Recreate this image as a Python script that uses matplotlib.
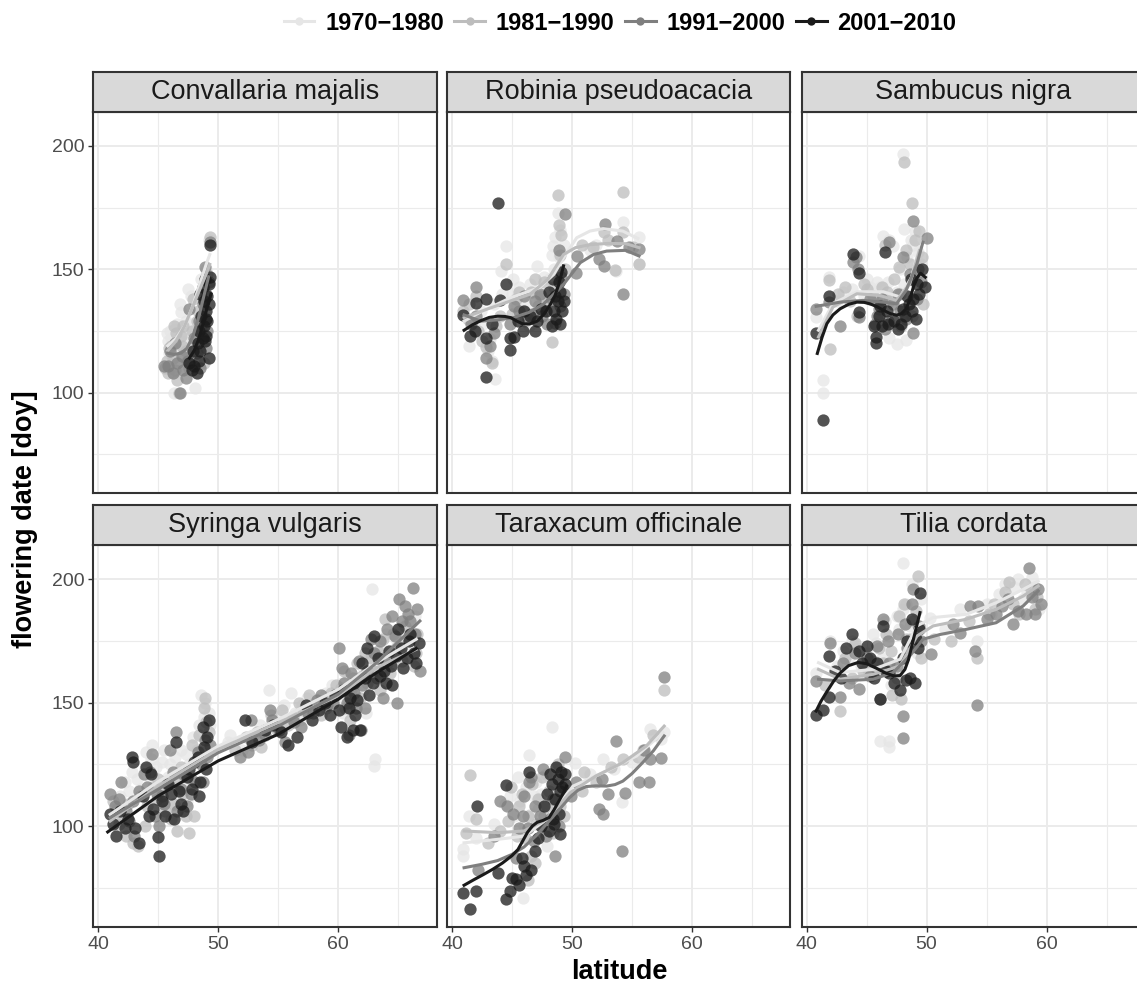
import matplotlib
matplotlib.use('Agg')
import matplotlib.pyplot as plt
from matplotlib.lines import Line2D
import numpy as np

plt.rcParams['font.family'] = ['Liberation Sans', 'DejaVu Sans']

decades = ['1970\u22121980', '1981\u22121990', '1991\u22122000', '2001\u22122010']
line_cols = ['#E6E6E6', '#BDBDBD', '#7F7F7F', '#1A1A1A']
species = ['Convallaria majalis', 'Robinia pseudoacacia', 'Sambucus nigra',
           'Syringa vulgaris', 'Taraxacum officinale', 'Tilia cordata']

# ---- observations (latitude, flowering doy) ----
conv_1970 = [(45.8, 121), (46.0, 125), (46.3, 118), (46.6, 128), (46.9, 132.8), (47.2, 124), (47.5, 142),
             (47.7, 139), (46.2, 112), (45.9, 110), (46.5, 116), (47.0, 114), (47.4, 120), (48.0, 113),
             (48.3, 118), (48.6, 146), (49.0, 150), (49.2, 162), (48.1, 102), (46.3, 100), (46.8, 109), (47.8, 128),
             (45.9, 116), (46.1, 122), (46.4, 126), (46.7, 119), (47.0, 121), (47.3, 129), (46.5, 113), (45.7, 124),
             (47.6, 117), (46.8, 136)]
conv_1981 = [(45.7, 113), (46.1, 119), (46.4, 109), (46.9, 123), (47.3, 117), (47.6, 110), (47.9, 138),
             (48.2, 129), (48.6, 141), (49.1, 148), (49.3, 163), (46.7, 100), (47.1, 127), (45.6, 110),
             (48.0, 120), (48.8, 112), (46.6, 105), (45.9, 118), (46.2, 114), (46.5, 124), (47.0, 119), (47.4, 113),
             (47.8, 125), (48.3, 133), (46.3, 127), (45.8, 108)]
conv_1991 = [(45.8, 111), (46.2, 108), (46.8, 100), (47.3, 106), (47.6, 134), (48.0, 122), (48.4, 129),
             (48.7, 136), (49.0, 118), (49.2, 145), (49.3, 161), (47.0, 115), (46.4, 120), (48.5, 110),
             (45.5, 111), (48.9, 151), (49.1, 125), (46.6, 112), (47.1, 109), (47.5, 113), (48.2, 116), (48.6, 126),
             (49.0, 140), (46.0, 117)]
conv_2001 = [(47.6, 112), (47.9, 117), (48.2, 108), (48.4, 125), (48.6, 131), (48.8, 127), (49.0, 133),
             (49.1, 139), (49.2, 144), (49.3, 147), (48.9, 121), (49.2, 114), (49.0, 123), (49.3, 160),
             (48.5, 140), (48.7, 143), (48.3, 120), (49.1, 129), (48.8, 137), (48.0, 111), (48.5, 117), (48.7, 122),
             (49.0, 130), (49.2, 136), (48.9, 146), (47.8, 109), (48.4, 113)]

rob_1970 = [(41.4, 119), (41.8, 128), (42.4, 133), (43.2, 121.6), (43.0, 117), (43.3, 112.8), (43.6, 105.4),
            (44.5, 159.5), (44.1, 149.3), (45.0, 140), (45.6, 143), (46.2, 136), (46.5, 144), (47.1, 151.4),
            (47.6, 138), (48.1, 146), (48.4, 159.5), (48.3, 156), (48.6, 163), (48.8, 173), (49.0, 166),
            (52.0, 160), (53.7, 149.3), (54.3, 169), (55.6, 163), (55.6, 152), (51.5, 158), (47.9, 133),
            (45.3, 135), (45.8, 139), (46.0, 130), (46.8, 141), (47.3, 137), (47.7, 147), (48.0, 140), (48.5, 150),
            (48.9, 155), (44.2, 140), (43.5, 136), (42.6, 128), (49.3, 160), (46.4, 127), (45.1, 146)]
rob_1981 = [(40.9, 133), (41.3, 130), (42.0, 139), (42.8, 118.5), (43.3, 112), (44.5, 152.3), (45.3, 138),
            (45.9, 133), (46.6, 141), (47.2, 135), (47.7, 145), (48.3, 120.7), (48.8, 180), (48.9, 168),
            (49.1, 164), (49.4, 150), (50.8, 160), (52.7, 165), (54.3, 181.4), (54.25, 165), (55.1, 159),
            (55.6, 152), (53.6, 149.6), (42.2, 125), (44.0, 131), (45.6, 141), (46.1, 129), (46.9, 146),
            (47.4, 139), (48.0, 137), (48.5, 143), (49.0, 156), (45.0, 132), (43.7, 127), (42.5, 121), (41.4, 136),
            (53.0, 162), (51.8, 159)]
rob_1991 = [(40.9, 137.4), (42.0, 142.8), (42.0, 131), (42.8, 114.2), (43.2, 119), (44.8, 128), (45.6, 133),
            (46.3, 130), (46.9, 137), (47.5, 131), (48.6, 128.4), (49.4, 172.3), (48.9, 158), (50.3, 148.6),
            (50.4, 155.4), (52.3, 154), (52.7, 151.4), (52.8, 168.2), (53.8, 161.5), (54.75, 159), (55.6, 158.1),
            (54.25, 140), (49.3, 140), (45.2, 135), (46.0, 139), (46.7, 132), (47.3, 140), (47.9, 128), (48.3, 138),
            (49.1, 147), (43.5, 124), (41.6, 128), (49.0, 135)]
rob_2001 = [(40.9, 131.5), (41.5, 123), (41.9, 125), (42.0, 136.5), (42.8, 137.8), (42.8, 122.3), (42.8, 106.4),
            (43.8, 176.8), (44.0, 137.4), (44.5, 143.9), (44.8, 122.3), (44.8, 117.2), (45.2, 122.6), (45.9, 125),
            (46.5, 131), (47.1, 129), (47.8, 133), (48.3, 127), (48.7, 130), (48.8, 137), (48.9, 145), (49.0, 141),
            (49.2, 133), (49.1, 149), (48.6, 139), (45.5, 129), (46.0, 133), (46.9, 125), (47.4, 134), (48.1, 141),
            (48.5, 133), (49.0, 128), (49.3, 137), (48.4, 146), (43.3, 128)]

sam_1970 = [(41.4, 105.1), (41.4, 100), (40.8, 130.7), (41.9, 146.8), (43.75, 142.1), (44.4, 155.6), (45.3, 143),
            (45.9, 145), (46.4, 163.7), (46.9, 162), (47.2, 159.6), (46.9, 122.2), (47.5, 119.9), (48.3, 121.3),
            (48.0, 196.9), (48.1, 166.4), (48.1, 144), (47.5, 141), (48.9, 160), (49.3, 157), (49.0, 165.7),
            (46.6, 138), (44.8, 139), (45.5, 141), (46.1, 143), (46.8, 145), (47.3, 138), (47.8, 150), (48.4, 155),
            (48.7, 162), (49.5, 152), (45.0, 146), (43.0, 141), (42.5, 137)]
sam_1981 = [(41.95, 117.9), (41.9, 145.5), (42.6, 140), (43.6, 137), (45.0, 142), (46.0, 136), (46.5, 160),
            (46.7, 141), (47.8, 140), (48.1, 193.5), (48.75, 176.8), (49.4, 165.7), (49.6, 155), (48.6, 152),
            (47.9, 127), (48.8, 131), (49.7, 136), (44.2, 131), (45.5, 139), (46.3, 143), (46.9, 137), (47.3, 146),
            (47.7, 151), (48.3, 158), (49.0, 162), (49.2, 148), (44.8, 144), (43.2, 143)]
sam_1991 = [(40.8, 134), (41.9, 136.7), (43.9, 152.9), (44.4, 130.7), (45.7, 128), (46.0, 134), (46.5, 126),
            (46.9, 161), (47.8, 133), (48.3, 130), (48.9, 169.7), (48.9, 124), (49.3, 150), (50.0, 162.6),
            (49.5, 145), (42.8, 127), (45.3, 138), (45.9, 131), (46.3, 138), (46.8, 129), (47.2, 136), (47.6, 140),
            (48.0, 155), (48.6, 148), (49.2, 138), (44.1, 155), (44.3, 150)]
sam_2001 = [(41.4, 89), (40.8, 124), (41.9, 139), (43.9, 156.3), (44.4, 148.5), (44.4, 132.7), (45.8, 122.6),
            (45.8, 120.2), (46.0, 131), (46.3, 127), (46.5, 156.9), (46.7, 133), (47.9, 128), (48.2, 131),
            (48.5, 136), (48.9, 138), (49.1, 130), (49.2, 144), (49.9, 142.8), (48.7, 146), (47.3, 129),
            (45.6, 127), (46.1, 135), (46.8, 128), (47.6, 126), (48.0, 134), (48.4, 139), (48.8, 133), (49.4, 140),
            (49.6, 150)]

syr_1970 = [(41.3, 104), (41.8, 112), (42.2, 118), (42.8, 122), (43.5, 115), (44.0, 130), (44.5, 133),
            (45.3, 126), (45.8, 120), (46.4, 128), (46.8, 121), (47.1, 117), (47.6, 125), (48.2, 131),
            (48.6, 153), (48.9, 150), (49.2, 146), (49.0, 139), (47.4, 110), (46.2, 109),
            (42.0, 109), (42.6, 114), (43.2, 119), (43.9, 123), (44.3, 118), (44.8, 124), (45.5, 131), (46.0, 125),
            (46.6, 116), (47.3, 129), (47.9, 136), (48.4, 141), (48.8, 144), (49.3, 141), (46.9, 131), (44.4, 127),
            (50.8, 134), (52.0, 131), (53.0, 137), (54.2, 155), (55.2, 145), (56.1, 154), (57.0, 149),
            (57.8, 147), (58.5, 152), (59.5, 157), (54.8, 140), (56.8, 143), (51.0, 137), (53.5, 141), (55.5, 149),
            (56.4, 146), (57.4, 152), (58.2, 149), (59.0, 154), (59.8, 151),
            (60.3, 158), (60.8, 161), (61.5, 155), (62.0, 165), (62.6, 168), (62.8, 196), (63.0, 124.3),
            (63.1, 127), (63.6, 172), (64.0, 178), (64.5, 166), (65.0, 180), (65.5, 172), (66.0, 168),
            (66.4, 185), (61.2, 150), (62.3, 146), (60.6, 153), (61.0, 157), (61.8, 160), (62.1, 155), (62.5, 162),
            (63.3, 166), (63.8, 164), (64.3, 170), (64.8, 176), (65.3, 178), (65.8, 183), (66.2, 175), (60.4, 146)]
syr_1981 = [(41.2, 110), (41.7, 101), (42.3, 96), (42.9, 93), (43.3, 92), (43.9, 100), (44.6, 116), (45.0, 119),
            (45.6, 106), (46.1, 103), (46.6, 98), (47.0, 113), (47.6, 97), (48.0, 104), (48.4, 137), (48.8, 148),
            (49.2, 138), (47.8, 133), (46.9, 124),
            (41.6, 107), (42.0, 104), (42.5, 109), (43.5, 112), (44.1, 108), (44.9, 111), (45.3, 114), (45.9, 118),
            (46.3, 109), (46.6, 120), (47.3, 104), (47.7, 119), (48.2, 126), (48.6, 130), (49.0, 142), (48.9, 152),
            (51.4, 131), (52.8, 133), (53.6, 132), (54.4, 145), (55.8, 141), (56.7, 150), (57.6, 153),
            (58.6, 145), (59.4, 154), (53.2, 138), (52.3, 136), (54.9, 139), (55.3, 147), (56.2, 144), (57.1, 147),
            (58.0, 150), (59.0, 148), (59.8, 157),
            (60.2, 156), (60.6, 148), (61.2, 160), (61.8, 152), (62.4, 158), (62.9, 163), (63.5, 155),
            (63.9, 184), (64.3, 162), (64.8, 172), (65.3, 167), (65.8, 176), (66.3, 165), (66.6, 178),
            (61.0, 143), (62.2, 170), (60.5, 163), (61.1, 155), (61.6, 166), (62.0, 161), (62.7, 168), (63.3, 171),
            (63.7, 176), (64.1, 166), (64.6, 178), (65.1, 173), (65.6, 181), (66.1, 178), (66.5, 170), (60.9, 151)]
syr_1991 = [(41.0, 113), (41.4, 108), (41.9, 118), (42.6, 102), (43.0, 96), (43.8, 121), (44.3, 122),
            (44.7, 104), (45.1, 100), (45.5, 109), (46.0, 131), (46.5, 138), (46.9, 115), (47.4, 108),
            (48.1, 118), (48.6, 125), (48.9, 135), (49.3, 133), (45.7, 117),
            (41.7, 111), (42.3, 106), (42.9, 110), (43.4, 114), (44.1, 116), (44.9, 113), (45.3, 112), (46.2, 122),
            (46.6, 106), (47.1, 121), (47.7, 113), (48.3, 130), (48.7, 118), (49.1, 128), (44.5, 129),
            (52.5, 130), (52.7, 143), (54.3, 147), (54.5, 143), (55.6, 134), (56.9, 140), (57.5, 146),
            (58.2, 151), (59.1, 149), (53.4, 135), (51.8, 128), (53.9, 137), (55.1, 139), (56.3, 142), (57.9, 146),
            (58.6, 153), (59.6, 150),
            (60.1, 172), (60.5, 158), (60.9, 137), (61.3, 154), (61.7, 167), (62.2, 148), (62.7, 176),
            (63.2, 160), (63.8, 168), (64.5, 185), (65.1, 192), (65.6, 189), (66.0, 183), (66.2, 196.6),
            (66.6, 188), (66.8, 163), (64.9, 150), (63.7, 152), (60.3, 164), (60.7, 150), (61.1, 162), (61.5, 148),
            (62.0, 157), (62.4, 163), (63.0, 170), (63.5, 175), (64.1, 180), (64.7, 177), (65.3, 183), (65.8, 186),
            (66.4, 178), (61.9, 139)]
syr_2001 = [(41.0, 105), (41.5, 96), (42.2, 99), (42.8, 128), (42.9, 126), (43.4, 93), (44.0, 124), (44.4, 121),
            (44.6, 107), (45.1, 88), (45.0, 95.5), (45.6, 104), (46.1, 113), (46.5, 134), (46.9, 109),
            (47.4, 120), (47.8, 115), (48.3, 128), (48.8, 132), (49.0, 123), (49.2, 143), (48.4, 112),
            (41.2, 101), (41.8, 106), (42.5, 103), (43.1, 99), (43.7, 112), (44.2, 104), (45.3, 110), (45.8, 117),
            (46.3, 103), (46.7, 114), (47.1, 106), (47.6, 123), (48.0, 126), (48.5, 118), (49.1, 136), (48.7, 140),
            (52.2, 143), (53.9, 139), (55.2, 138), (56.6, 136), (57.3, 149), (58.9, 150), (59.7, 153),
            (52.8, 134), (54.6, 141), (55.8, 133), (57.8, 143), (58.4, 147), (59.3, 145),
            (60.2, 140), (60.7, 136), (61.0, 152), (61.4, 145), (61.8, 139), (62.0, 166), (62.6, 153),
            (63.0, 177), (63.5, 161), (64.0, 158), (64.5, 157), (65.0, 180), (65.4, 164), (65.9, 175),
            (66.3, 170), (66.7, 174), (62.4, 172), (64.2, 171), (60.1, 147), (60.4, 155), (60.9, 148), (61.3, 158),
            (61.6, 151), (62.2, 160), (62.9, 158), (63.3, 168), (63.8, 163), (64.4, 165), (64.8, 169), (65.2, 172),
            (65.7, 168), (66.0, 178), (66.5, 166), (61.2, 139)]

tar_1970 = [(40.9, 90.5), (40.9, 87.8), (41.4, 104), (42.0, 95), (43.5, 101), (44.4, 109), (45.2, 104),
            (45.9, 71), (46.4, 128.6), (46.8, 112), (47.2, 107), (47.6, 98), (47.9, 92), (48.3, 140.1),
            (48.5, 115), (49.0, 118), (50.25, 125.7), (51.5, 121), (52.6, 127), (54.2, 109.7), (55.0, 126),
            (56.5, 139.2), (57.4, 135.1), (57.7, 138), (45.7, 110), (46.2, 116), (46.6, 105), (47.0, 118),
            (47.4, 113), (47.8, 121), (48.1, 109), (48.7, 106), (46.0, 100), (45.5, 120), (44.8, 112), (53.5, 123)]
tar_1981 = [(41.5, 120.8), (41.2, 97), (42.0, 103), (43.0, 93), (44.0, 98), (44.9, 116), (45.6, 108),
            (46.1, 95), (46.6, 88), (47.0, 101), (47.5, 120), (47.9, 108), (48.4, 97), (48.8, 125), (49.3, 104),
            (50.8, 114), (52.0, 118), (53.3, 124), (54.3, 127), (55.9, 131), (56.8, 137), (57.7, 155.1),
            (46.3, 78), (46.9, 85), (45.8, 113), (46.3, 104), (46.7, 117), (47.2, 111), (47.7, 104), (48.1, 114),
            (48.6, 99), (49.0, 108), (45.4, 96), (44.7, 102), (51.0, 122), (55.5, 128)]
tar_1991 = [(42.2, 82), (43.5, 96), (44.6, 108), (45.6, 99), (46.0, 112), (46.45, 118), (46.8, 94),
            (47.6, 123), (48.2, 103), (48.6, 88), (49.4, 128.1), (49.9, 112), (50.3, 118), (52.3, 106.8),
            (52.6, 104.7), (52.5, 118.9), (53.7, 134.5), (54.4, 113.5), (54.2, 89.9), (55.6, 117.8),
            (56.4, 117.8), (56.5, 127), (57.4, 127.7), (57.7, 160.5), (45.3, 87), (45.9, 104), (46.3, 99),
            (46.9, 108), (47.3, 104), (47.8, 96), (48.4, 111), (48.9, 100), (46.6, 120), (45.1, 105), (44.0, 110),
            (53.0, 113), (56.0, 131)]
tar_2001 = [(40.9, 72.7), (41.5, 66.2), (42.0, 73.6), (42.05, 108.1), (43.8, 81), (44.5, 116.5), (44.5, 70.5),
            (44.8, 73.6), (45.3, 78.4), (45.6, 76), (46.0, 84), (46.45, 121.9), (46.9, 90), (47.4, 100),
            (47.9, 113), (48.3, 117), (48.6, 111), (48.8, 119), (49.0, 114), (49.2, 116), (49.0, 96.6),
            (48.4, 103), (49.4, 121), (48.1, 98), (45.8, 87), (46.2, 80), (46.6, 82), (47.2, 95), (47.7, 108),
            (48.2, 121), (48.7, 124), (49.1, 122), (49.4, 117), (48.9, 105), (48.5, 101), (45.0, 79)]

til_1970 = [(40.8, 162.2), (41.95, 175), (42.5, 165), (43.5, 168), (44.2, 172), (45.0, 170), (45.5, 178),
            (46.1, 134.5), (46.5, 183), (46.9, 134.5), (46.9, 131.9), (47.3, 165), (47.7, 180), (48.05, 206.8),
            (48.3, 190), (48.8, 198), (49.2, 170), (50.3, 184.5), (51.5, 180), (52.8, 187.8), (54.2, 175),
            (55.4, 186), (56.5, 198), (57.3, 197), (58.0, 192), (58.8, 201), (59.4, 188), (43.0, 171), (43.8, 175),
            (44.5, 165), (45.2, 162), (45.8, 174), (46.3, 168), (46.9, 177), (47.5, 185), (48.0, 188), (48.6, 181),
            (49.5, 192), (55.0, 190), (56.0, 194), (57.6, 200), (58.4, 195), (59.0, 197), (47.0, 157)]
til_1981 = [(41.5, 157), (42.8, 146.6), (43.8, 160), (44.7, 163), (45.5, 167), (46.0, 172), (46.6, 178),
            (47.1, 153), (47.9, 151.6), (48.3, 176), (48.9, 183), (49.3, 201.4), (49.5, 168), (50.6, 176),
            (52.0, 175), (53.5, 183), (54.2, 168), (55.6, 190), (56.5, 195), (57.7, 186), (58.7, 196),
            (59.2, 193), (47.5, 160), (43.2, 168), (44.0, 174), (45.0, 164), (45.9, 162), (46.4, 166), (47.0, 171),
            (47.7, 185), (48.1, 190), (48.6, 176), (49.1, 187), (55.2, 186), (56.9, 199), (57.2, 190), (58.2, 198),
            (59.0, 188)]
til_1991 = [(40.8, 158.8), (41.95, 174), (42.8, 152.3), (43.5, 158), (44.4, 155.4), (45.3, 161), (46.1, 151.6),
            (46.4, 184), (46.8, 175), (47.5, 165), (48.0, 135.6), (48.0, 144.6), (48.4, 172), (48.8, 190),
            (49.4, 181), (50.4, 169.6), (52.2, 181.8), (52.8, 178.4), (53.6, 189.2), (54.2, 149.1), (54.0, 171),
            (54.3, 189), (55.8, 186), (56.3, 189), (57.2, 182), (58.3, 186), (58.5, 204.5), (59.3, 196),
            (59.5, 190), (43.0, 166), (44.0, 170), (45.0, 168), (45.9, 173), (46.9, 166), (47.6, 178), (48.2, 182),
            (48.9, 196), (49.5, 175), (55.0, 184), (56.8, 192), (57.6, 187), (58.8, 193), (59.0, 186)]
til_2001 = [(40.8, 144.9), (41.4, 147), (41.9, 152.3), (41.9, 169), (42.9, 160), (43.75, 178), (44.4, 171),
            (44.6, 166), (45.6, 160), (46.1, 151.6), (46.4, 181), (46.6, 163), (47.3, 158), (48.0, 168),
            (48.4, 175), (48.6, 160), (49.0, 158), (49.1, 176), (49.45, 194.3), (48.8, 184), (42.4, 163),
            (43.3, 172), (45.0, 173), (45.3, 168), (45.9, 166), (46.9, 162), (47.8, 155), (48.3, 159), (49.3, 172),
            (49.4, 180)]

# ---- loess fits ----
conv_fit_1970 = [(45.8, 119), (46.5, 122), (47.2, 127), (47.8, 134), (48.4, 143), (49.0, 152), (49.3, 156)]
conv_fit_1981 = [(45.8, 117), (46.5, 121), (47.2, 127), (47.8, 134), (48.4, 141), (49.0, 148), (49.3, 152)]
conv_fit_1991 = [(45.8, 116), (46.3, 115.5), (46.9, 116), (47.4, 118), (47.9, 123), (48.4, 131), (48.9, 141), (49.2, 147)]
conv_fit_2001 = [(47.6, 114), (48.0, 117), (48.4, 122), (48.8, 129), (49.1, 135), (49.4, 140)]

rob_fit_1970 = [(41.0, 129), (42.5, 133), (44.9, 138.5), (47.3, 142.6), (48.5, 148), (49.3, 154.7), (50.4, 162.8),
                (51.5, 165.5), (52.6, 166.5), (54.25, 165.5), (55.5, 162.5)]
rob_fit_1981 = [(41.0, 130.4), (43.0, 134), (46.5, 139.9), (48.0, 146), (49.3, 156), (50.3, 158.8), (51.5, 160),
                (53.0, 160.5), (54.5, 160.4), (55.6, 158.8)]
rob_fit_1991 = [(41.0, 131.5), (42.4, 129), (43.8, 129.5), (45.1, 130.4), (46.4, 132.5), (47.6, 135.8), (48.5, 140),
                (49.3, 143.9), (50.7, 152.7), (51.8, 156), (52.9, 157.4), (54.5, 157.7), (55.6, 155.4)]
rob_fit_2001 = [(41.0, 125.3), (41.7, 127.5), (42.4, 129.2), (43.1, 130.5), (43.8, 131), (44.4, 130.9),
                (44.9, 130.4), (45.4, 129), (45.9, 127.9), (46.5, 127.9), (47.1, 129), (47.7, 132), (48.2, 135.8),
                (48.6, 139.5), (48.9, 143.9), (49.1, 147.5), (49.3, 151.4)]

sam_fit_1970 = [(41.0, 125.3), (42.2, 136.1), (44.2, 140.9), (46.4, 140.9), (47.8, 138.8), (48.75, 146.8), (49.4, 159)]
sam_fit_1981 = [(41.0, 122.6), (42.2, 134.7), (44.2, 140.1), (46.1, 139.4), (47.5, 137.4), (48.6, 144.1), (49.4, 157.6)]
sam_fit_1991 = [(40.8, 135), (42.8, 136.7), (44.7, 137.4), (46.4, 136.7), (47.5, 136), (48.3, 141.5), (49.2, 152.2), (49.7, 161)]
sam_fit_2001 = [(40.9, 115.9), (41.3, 122.5), (41.7, 128), (42.2, 131.5), (42.8, 134), (43.5, 135.8), (44.2, 136.7),
                (44.8, 136.6), (45.3, 136), (45.9, 134.8), (46.4, 133.4), (47.0, 132), (47.5, 131.4), (47.9, 132),
                (48.3, 134), (48.6, 137.5), (48.9, 142.8), (49.2, 146.5), (49.5, 148.4), (49.9, 146.8)]

syr_fit_1970 = [(41.0, 104.7), (45.0, 118), (50.0, 132.4), (55.0, 143.2), (60.0, 155.4), (63.2, 166.2), (66.5, 175.7)]
syr_fit_1981 = [(41.0, 102), (45.0, 116.2), (50.0, 131.1), (55.0, 141.9), (60.0, 152.7), (63.2, 164.2), (66.5, 171.6)]
syr_fit_1991 = [(41.0, 103.4), (45.0, 114.9), (50.0, 129.7), (55.0, 140.5), (60.0, 153.4), (63.2, 166.2), (66.8, 183.1)]
syr_fit_2001 = [(40.8, 97.6), (45.0, 112.2), (50.0, 126.4), (55.0, 137.2), (60.0, 151.4), (63.2, 162.2), (66.5, 172)]

tar_fit_1970 = [(41.0, 93.2), (43.8, 94.6), (46.0, 95.9), (47.9, 102.7), (50.1, 116.2), (52.9, 122.3), (55.4, 128.4), (57.6, 137.8)]
tar_fit_1981 = [(41.0, 98), (43.8, 97.3), (46.0, 98), (47.9, 102.7), (49.85, 113.5), (52.0, 120.3), (54.25, 125.7),
                (56.2, 132.4), (57.7, 140.5)]
tar_fit_1991 = [(41.0, 83.1), (42.5, 84.5), (43.8, 86), (45.0, 88.5), (46.0, 91.5), (47.0, 96), (48.0, 101.5),
                (49.0, 107), (49.8, 111.5), (50.5, 114.5), (51.2, 116), (52.0, 116.3), (52.9, 116.2), (53.6, 116.8),
                (54.25, 118.2), (55.0, 121.2), (55.9, 125.7), (56.8, 130.5), (57.7, 136.5)]
tar_fit_2001 = [(41.0, 76), (41.8, 78.2), (42.6, 80.3), (43.4, 82.5), (44.2, 85), (45.0, 88), (45.5, 90.5),
                (45.9, 94), (46.3, 97.5), (46.7, 100), (47.1, 101.5), (47.6, 102.3), (48.1, 103.5), (48.5, 106.5),
                (48.9, 110), (49.3, 113.5), (49.55, 116.2)]

til_fit_1970 = [(41.0, 166.2), (42.8, 162.2), (45.55, 163.5), (47.8, 167.6), (49.2, 181.1), (50.55, 184.5),
                (53.3, 185.8), (55.8, 190.5), (58.05, 195.9), (59.3, 199.3)]
til_fit_1981 = [(41.0, 163.5), (42.8, 159.5), (45.55, 161.5), (47.8, 164.9), (49.2, 177), (50.55, 181.1),
                (53.3, 183.8), (55.8, 187.8), (58.05, 193.2), (59.3, 197.3)]
til_fit_1991 = [(41.0, 159.5), (42.8, 158.8), (45.55, 159.5), (47.2, 162.2), (48.6, 168.9), (49.7, 175.7),
                (51.1, 177.6), (53.3, 179.7), (55.8, 182.4), (58.05, 189.2), (59.3, 195.3)]
til_fit_2001 = [(40.8, 146.6), (41.2, 150.5), (41.7, 154.5), (42.3, 159), (42.8, 162), (43.5, 165), (44.3, 166.3),
                (45.0, 165.8), (45.8, 164), (46.6, 162), (47.3, 160.8), (47.8, 161), (48.2, 163.5), (48.5, 167.5),
                (48.8, 173.5), (49.1, 179.5), (49.45, 186.5)]

points = [[conv_1970, conv_1981, conv_1991, conv_2001],
          [rob_1970, rob_1981, rob_1991, rob_2001],
          [sam_1970, sam_1981, sam_1991, sam_2001],
          [syr_1970, syr_1981, syr_1991, syr_2001],
          [tar_1970, tar_1981, tar_1991, tar_2001],
          [til_1970, til_1981, til_1991, til_2001]]
fits = [[conv_fit_1970, conv_fit_1981, conv_fit_1991, conv_fit_2001],
        [rob_fit_1970, rob_fit_1981, rob_fit_1991, rob_fit_2001],
        [sam_fit_1970, sam_fit_1981, sam_fit_1991, sam_fit_2001],
        [syr_fit_1970, syr_fit_1981, syr_fit_1991, syr_fit_2001],
        [tar_fit_1970, tar_fit_1981, tar_fit_1991, tar_fit_2001],
        [til_fit_1970, til_fit_1981, til_fit_1991, til_fit_2001]]

W, H = 1137, 985
fig = plt.figure(figsize=(W / 100, H / 100), dpi=100)

cols_px = [(93.3, 436.7), (447.3, 790.0), (801.7, 1145.0)]
rows_px = [(71.7, 111.7, 493.3), (505.0, 545.0, 926.7)]
edge = '#333333'


def px_box(x0, x1, y0, y1):
    return [x0 / W, 1 - y1 / H, (x1 - x0) / W, (y1 - y0) / H]


for i, name in enumerate(species):
    r, c = divmod(i, 3)
    x0, x1 = cols_px[c]
    s_top, p_top, p_bot = rows_px[r]

    ax = fig.add_axes(px_box(x0, x1, p_top, p_bot))
    ax.set_xlim(39.6, 68.2)
    ax.set_ylim(59.2, 213.9)
    ax.set_xticks([40, 50, 60])
    ax.set_xticks([45, 55, 65], minor=True)
    ax.set_yticks([100, 150, 200])
    ax.set_yticks([75, 125, 175], minor=True)
    ax.grid(which='major', color='#EBEBEB', lw=1.4)
    ax.grid(which='minor', color='#EBEBEB', lw=0.8)
    ax.set_axisbelow(True)
    for sp in ax.spines.values():
        sp.set_color(edge)
        sp.set_linewidth(1.5)
    ax.tick_params(which='minor', length=0)
    ax.tick_params(which='major', length=3.6, width=1.0, color=edge, labelcolor='#4D4D4D',
                   labelsize=14, pad=3)
    if c != 0:
        ax.tick_params(axis='y', which='major', length=0, labelleft=False)
    if r != 1:
        ax.tick_params(axis='x', which='major', length=0, labelbottom=False)

    for k in range(4):
        pts = np.array(points[i][k])
        ax.scatter(pts[:, 0], pts[:, 1], s=78, color=line_cols[k], alpha=0.75, linewidths=0, zorder=2)
    for k in range(4):
        f = np.array(fits[i][k])
        ax.plot(f[:, 0], f[:, 1], color=line_cols[k], lw=2.2, zorder=3, solid_joinstyle='round')

    sax = fig.add_axes(px_box(x0, x1, s_top, p_top))
    sax.set_facecolor('#D9D9D9')
    sax.set_xticks([])
    sax.set_yticks([])
    for sp in sax.spines.values():
        sp.set_color(edge)
        sp.set_linewidth(1.5)
    sax.text(0.5, 0.5, name, ha='center', va='center', fontsize=19.5, color='#1A1A1A',
             transform=sax.transAxes)

handles = [Line2D([0], [0], color=col, lw=2.2, marker='o', markersize=6,
                  markerfacecolor=col, markeredgewidth=0) for col in line_cols]
fig.legend(handles, decades, loc='center', bbox_to_anchor=(620 / W, 1 - 23 / H), ncol=4, frameon=False,
           prop={'weight': 'bold', 'size': 17}, handlelength=1.3, handletextpad=0.45, columnspacing=0.45)

fig.text(619 / W, 1 - 972 / H, 'latitude', ha='center', va='center', fontsize=19.5, fontweight='bold')
fig.text(25 / W, 1 - 519 / H, 'flowering date [doy]', ha='center', va='center', rotation=90,
         fontsize=19.5, fontweight='bold')

fig.savefig('out.png', dpi=100)
